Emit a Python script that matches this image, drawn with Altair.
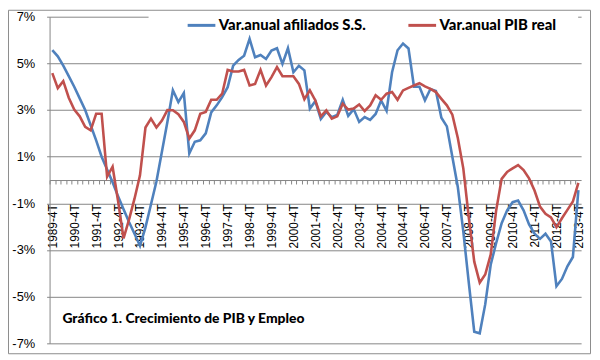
import json
import altair as alt
import pandas as pd

# ---------------- data ----------------
year_labels = ["1989-4T", "1990-4T", "1991-4T", "1992-4T", "1993-4T", "1994-4T",
               "1995-4T", "1996-4T", "1997-4T", "1998-4T", "1999-4T", "2000-4T",
               "2001-4T", "2002-4T", "2003-4T", "2004-4T", "2004-4T", "2006-4T",
               "2007-4T", "2008-4T", "2009-4T", "2010-4T", "2011-4T", "2012-4T",
               "2013-4T"]

afiliados = [5.57, 5.3, 4.9, 4.45, 4.0, 3.5, 3.0, 2.35, 1.7, 1.0,
             0.45, -0.1, -0.7, -1.25, -1.8, -2.3, -2.82, -2.03, -1.05, -0.06,
             1.21, 2.49, 3.85, 3.34, 3.73, 1.14, 1.64, 1.7, 2.0, 2.9,
             3.2, 3.55, 3.98, 4.9, 5.15, 5.33, 6.05, 5.26, 5.36, 5.19,
             5.55, 5.65, 4.98, 5.65, 4.62, 4.9, 4.7, 3.06, 3.38, 2.62,
             2.92, 2.69, 2.79, 3.44, 2.75, 3.04, 2.49, 2.7, 2.58, 2.83,
             3.41, 2.96, 4.62, 5.56, 5.85, 5.64, 4.0, 4.0, 3.42, 3.9,
             3.82, 2.67, 2.3, 1.0, -0.3, -2.2, -4.4, -6.5, -6.57, -5.33,
             -3.63, -2.7, -1.85, -1.3, -0.95, -0.88, -1.3, -1.9, -2.3, -2.52,
             -2.3, -2.63, -4.55, -4.24, -3.7, -3.3, -0.43]

pib_real = [4.58, 3.94, 4.24, 3.53, 3.02, 2.73, 2.28, 2.13, 2.84, 2.84,
            0.14, 0.57, -0.9, -2.5, -1.7, -0.8, 0.2, 2.25, 2.63, 2.25,
            2.55, 3.0, 2.99, 2.82, 2.49, 1.78, 2.13, 2.84, 2.92, 3.44,
            3.44, 3.7, 4.72, 4.65, 4.65, 4.72, 4.05, 4.12, 4.72, 4.05,
            4.41, 4.84, 4.45, 4.45, 4.45, 4.12, 3.46, 3.84, 3.41, 2.73,
            2.99, 2.63, 2.73, 3.27, 3.02, 3.06, 3.24, 2.96, 3.2, 3.63,
            3.44, 3.7, 3.77, 3.44, 3.84, 3.95, 4.05, 4.15, 4.01, 3.91,
            3.77, 3.48, 3.2, 2.8, 1.8, 0.5, -1.6, -3.5, -4.4, -4.05,
            -3.2, -1.3, 0.05, 0.35, 0.5, 0.64, 0.43, 0.07, -0.45, -1.14,
            -1.45, -1.6, -2.02, -1.64, -1.28, -0.92, -0.12]

series_names = ["Var.anual afiliados S.S.", "Var.anual PIB real"]
series_colors = ["#4F81BD", "#C0504D"]
y_ticks = [-7, -5, -3, -1, 1, 3, 5, 7]
chart_title = "Gráfico 1. Crecimiento de PIB y Empleo"

# ---------------- table ----------------
n = len(afiliados)
df = pd.DataFrame({
    "q": list(range(n)) * 2,
    "v": afiliados + pib_real,
    "serie": [series_names[0]] * n + [series_names[1]] * n,
})

W, H = 537, 330
half = W / n / 2
GRAY = "#868686"
AXFONT = "Liberation Sans"
BOLDFONT = "Lato"

label_expr = ("datum.value % 4 == 0 ? " + json.dumps(year_labels) +
              "[datum.value / 4] : ''")

x_enc = alt.X(
    "q:Q",
    scale=alt.Scale(domain=[-0.5, n - 0.5], nice=False, zero=False),
    axis=alt.Axis(
        values=list(range(n)), title=None, offset=-H / 2,
        labelExpr=label_expr, labelAngle=270, labelAlign="right",
        labelBaseline="middle", labelOverlap=False, labelFlush=False,
        labelBound=False, tickOffset=-half, labelOffset=half,
        tickSize=4, labelPadding=20, grid=False,
        domainColor=GRAY, tickColor=GRAY, labelFont=AXFONT,
        labelFontSize=12, labelColor="black",
    ),
)

y_enc = alt.Y(
    "v:Q",
    scale=alt.Scale(domain=[-7, 7], nice=False, zero=False),
    axis=alt.Axis(
        values=y_ticks, title=None, labelExpr="datum.value + '%'",
        grid=True, gridColor=GRAY, gridWidth=1, tickSize=3, labelPadding=12,
        domainColor=GRAY, tickColor=GRAY, labelFont=AXFONT,
        labelFontSize=13, labelColor="black",
    ),
)

lines = alt.Chart(df).mark_line(strokeWidth=2.6).encode(
    x=x_enc,
    y=y_enc,
    color=alt.Color(
        "serie:N",
        scale=alt.Scale(domain=series_names, range=series_colors),
        legend=alt.Legend(
            title=None, orient="none", legendX=138, legendY=-7,
            direction="horizontal", symbolType="stroke", symbolSize=784,
            symbolStrokeWidth=3, labelFont=BOLDFONT, labelFontWeight=900,
            labelFontSize=15, labelColor="black", columnPadding=36,
            labelOffset=2, padding=0,
        ),
    ),
)

one = pd.DataFrame({"t": [chart_title]})

legend_mask = alt.Chart(one).mark_rect(color="white").encode(
    x=alt.value(100), x2=alt.value(534), y=alt.value(-3), y2=alt.value(3)
)

title_text = alt.Chart(one).mark_text(
    align="left", baseline="middle", font=BOLDFONT, fontWeight=900,
    fontSize=14, color="black",
).encode(x=alt.value(13), y=alt.value(305), text="t:N")

border = alt.Chart(one).mark_rect(filled=False, color="#8c8c8c", strokeWidth=1).encode(
    x=alt.value(-41.5), x2=alt.value(W + 9.5), y=alt.value(-6.5), y2=alt.value(H + 10.5)
)

chart = alt.layer(legend_mask, lines, title_text, border).properties(
    width=W, height=H,
    padding={"left": 42, "top": 7, "right": 11, "bottom": 12},
    autosize=alt.AutoSizeParams(type="none"),
    background="white",
).configure_view(stroke="transparent")

chart.save("out.html", embed_options={"renderer": "svg", "actions": False})
